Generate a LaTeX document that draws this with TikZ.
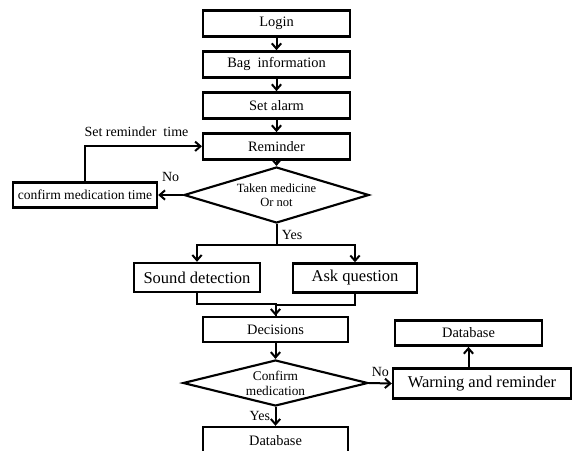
\documentclass[tikz,border=0pt]{standalone}
\usepackage{fontspec}
\setmainfont{Liberation Serif}
\usepackage{tikz}
\usetikzlibrary{arrows.meta,positioning,shapes.geometric}

\begin{document}
\begin{tikzpicture}[
        x=0.75pt, y=-0.75pt,
        node distance=9.4pt,
        font=\fontsize{10.8}{13}\selectfont,
        line width=1.5pt,
        box/.style={rectangle, draw, line width=1.8pt, minimum width=110pt,
                    minimum height=19.5pt, inner sep=1pt, align=center},
        bigbox/.style={box, font=\fontsize{12.4}{15}\selectfont,
                       minimum width=94.5pt, minimum height=21.75pt},
        dec/.style={diamond, draw, line width=1.6pt, inner sep=0pt, align=center,
                    minimum width=138.75pt},
        lbl/.style={font=\fontsize{10.5}{12}\selectfont},
        a/.style={-{Straight Barb[length=4pt, width=7pt]}}
    ]
        \useasboundingbox (0,0) rectangle (573,450);

        \node[box] (login) at (276.5,23.5) {Login};
        \node[box, below=of login] (bag) {Bag~~information};
        \node[box, below=of bag] (alarm) {Set alarm};
        \node[box, below=of alarm] (remind) {Reminder};
        \node[dec, aspect=3.3, minimum height=42pt,
              font=\fontsize{9.4}{10.5}\selectfont] (taken) at (276.5,195) {Taken medicine\\Or not};
        \node[box, minimum width=108pt, minimum height=18.75pt,
              font=\fontsize{10.2}{12}\selectfont] (conftime) at (85,195) {confirm medication time};
        \node[bigbox] (sound) at (197,277.5) {Sound detection};
        \node[bigbox, minimum width=93pt] (ask) at (355,278) {Ask question};
        \node[box, minimum width=109pt, minimum height=18.75pt] (decide) at (275.5,329.5) {Decisions};
        \node[dec, aspect=4, minimum height=34.5pt,
              font=\fontsize{10}{11.25}\selectfont] (confmed) at (275.5,383) {Confirm\\medication};
        \node[box, minimum width=109pt, minimum height=21pt] (dbmain) at (275.5,441) {Database};
        \node[bigbox, minimum width=133.5pt, minimum height=22.5pt] (warn) at (482,383.5) {Warning and reminder};
        \node[box, minimum height=19pt] (dbside) at (468.5,333) {Database};

        \draw[a] (login) -- (bag);
        \draw[a] (bag) -- (alarm);
        \draw[a] (alarm) -- (remind);
        \draw[a] (remind) -- (taken);
        \draw[a] (taken.west) -- node[lbl, above=6pt]{No} (conftime.east);
        \draw[a] (conftime.north) |- node[lbl, pos=0.72, above=3pt]{Set reminder~~time} (remind.west);
        \draw[a] (taken.south) -- node[lbl, right]{Yes} ++(0,21) -| (sound.north);
        \draw[a] (taken.south) -- ++(0,21) -| (ask.north);
        \draw[a] (sound.south) -- ++(0,11) -| (decide.north);
        \draw (ask.south) -- ++(0,11) -| (decide.north);
        \draw[a] (decide) -- (confmed);
        \draw[a] (confmed) -- node[lbl, left]{Yes} (dbmain);
        \draw[a] (confmed.east) -- node[lbl, above=1pt]{No} (warn.west);
        \draw[a] (warn.north -| dbside.south) -- (dbside.south);
    \end{tikzpicture}
\end{document}
